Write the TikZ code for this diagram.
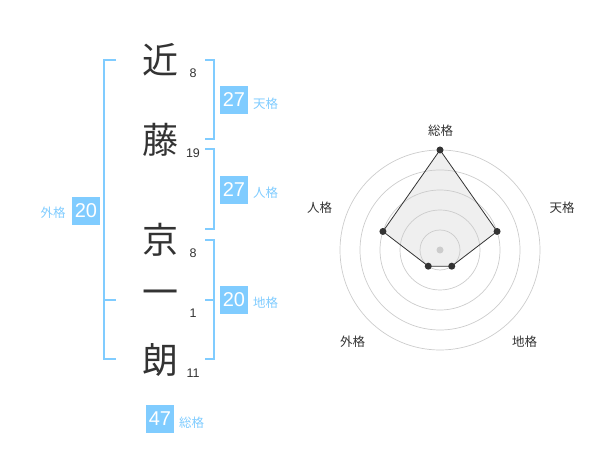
\documentclass[tikz,border=0pt]{standalone}
\usepackage{fontspec}
\setmainfont{Liberation Sans}
\newfontfamily\jp{Noto Sans CJK JP}
\usetikzlibrary{calc}
\definecolor{accent}{HTML}{80CCFF}
\definecolor{ink}{HTML}{333333}
\definecolor{ringc}{HTML}{CCCCCC}
\definecolor{areafill}{HTML}{EFEFEF}
\begin{document}
\begin{tikzpicture}[x=1pt,y=-1pt,
  kanji/.style={font=\jp\fontsize{36}{36}\selectfont, text=ink, inner sep=0},
  strokes/.style={font=\fontsize{12.5}{12.5}\selectfont, text=ink, inner sep=0},
  valbox/.style={fill=accent, text=white, font=\fontsize{20}{20}\selectfont, minimum width=28, minimum height=28, inner sep=0},
  cat/.style={font=\jp\fontsize{12.5}{12.5}\selectfont, text=accent, inner sep=0},
  bracket/.style={draw=accent, line width=2},
  ring/.style={draw=ringc, line width=0.7},
  radarlab/.style={font=\jp\fontsize{12.5}{12.5}\selectfont, text=ink, inner sep=0},
  dot/.style={circle, fill=ink, inner sep=0, minimum size=7},
  areafillstyle/.style={fill=areafill},
  arealine/.style={draw=ink, line width=0.8}
]
\useasboundingbox (0,0) rectangle (600,470);
% name characters
\node[kanji] (k1) at (160,60) {近};
\node[kanji] (k2) at (160,140) {藤};
\node[kanji] (k3) at (160,240) {京};
\node[kanji] (k4) at (160,298) {一};
\node[kanji] (k5) at (160,360) {朗};
\node[strokes] (s1) at (193,73) {8};
\node[strokes] (s2) at (193,153) {19};
\node[strokes] (s3) at (193,253) {8};
\node[strokes] (s4) at (193,313) {1};
\node[strokes] (s5) at (193,373) {11};
% brackets
\draw[bracket] (116,60) -- (104,60) -- (104,359) -- (116,359);
\draw[bracket] (104,300) -- (116,300);
\draw[bracket] (205,60) -- (214,60) -- (214,139) -- (205,139);
\draw[bracket] (205,149) -- (214,149) -- (214,229) -- (205,229);
\draw[bracket] (205,240) -- (214,240) -- (214,359) -- (205,359);
\draw[bracket] (205,300) -- (214,300);
% value boxes
\node[valbox] (ten) at (234,100) {27};
\node[cat, anchor=west] (tenl) at (253,104) {天格};
\node[valbox] (jin) at (234,190) {27};
\node[cat, anchor=west] (jinl) at (253,193) {人格};
\node[valbox] (chi) at (234,300) {20};
\node[cat, anchor=west] (chil) at (253,303) {地格};
\node[valbox] (gai) at (86,211) {20};
\node[cat] (gail) at (53,213) {外格};
\node[valbox] (sou) at (160,419) {47};
\node[cat, anchor=west] (soul) at (179,423) {総格};
% radar chart
\coordinate (c) at (440,250);
\coordinate (p1) at ($(c)+(-90:100)$);
\coordinate (p2) at ($(c)+(-18:60)$);
\coordinate (p3) at ($(c)+(54:20)$);
\coordinate (p4) at ($(c)+(126:20)$);
\coordinate (p5) at ($(c)+(198:60)$);
\fill[areafillstyle] (p1) -- (p2) -- (p3) -- (p4) -- (p5) -- cycle;
\foreach \r in {20,40,60,80,100} \draw[ring] (c) circle[radius=\r];
\draw[arealine] (p1) -- (p2) -- (p3) -- (p4) -- (p5) -- cycle;
\node[circle, fill=ringc, inner sep=0, minimum size=7] (cd) at (c) {};
\foreach \i in {1,...,5} \node[dot] (d\i) at (p\i) {};
\node[radarlab] (l1) at (440.5,131) {総格};
\node[radarlab] (l2) at (562,208) {天格};
\node[radarlab] (l3) at (524.5,342) {地格};
\node[radarlab] (l4) at (352.5,342) {外格};
\node[radarlab] (l5) at (319.5,208) {人格};
\end{tikzpicture}
\end{document}
